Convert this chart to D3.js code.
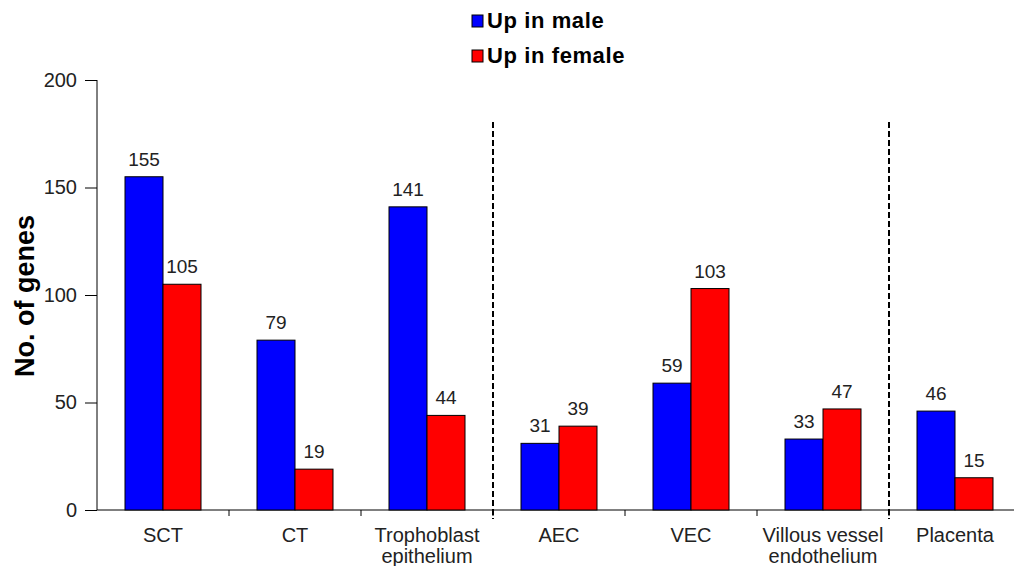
<!DOCTYPE html>
<html><head><meta charset="utf-8">
<script src="https://cdn.jsdelivr.net/npm/d3@7"></script>
<style>body{margin:0;background:#fff}svg{display:block}text{font-family:"Liberation Sans",Arial,sans-serif}</style>
</head><body><svg id="c" width="1014" height="566"></svg>
<script>
const categories = [["SCT"],["CT"],["Trophoblast","epithelium"],["AEC"],["VEC"],["Villous vessel","endothelium"],["Placenta"]];
const series = ["Up in male","Up in female"];
const colors = ["#0000ff","#ff0000"];
const male = [155,79,141,31,59,33,46];
const female = [105,19,44,39,103,47,15];
const yTicks = [0,50,100,150,200];
const dividers = [3,6]; // dashed lines before these category indices

const svg = d3.select("#c");
const x0 = d3.scaleBand().domain(d3.range(categories.length)).range([97, 97+132*7]).padding(0);
const x1 = d3.scaleBand().domain([0,1]).range([28, 104]).padding(0);
const y = d3.scaleLinear().domain([0,200]).range([510,80]);

// y axis
const ya = svg.append("g").attr("transform","translate(97,0)")
  .call(d3.axisLeft(y).tickValues(yTicks).tickSize(12).tickPadding(8));
ya.select(".domain").attr("stroke","#000").attr("d","M0,80V510");
ya.selectAll("line").attr("stroke","#000");
ya.selectAll("text").attr("font-size","20px").attr("fill","#222");

// x axis
const xa = svg.append("g").attr("transform","translate(0,510)");
xa.append("line").attr("x1",97).attr("x2",1014).attr("stroke","#000");
xa.selectAll("line.t").data(d3.range(1,categories.length)).join("line")
  .attr("x1",d=>x0(d)).attr("x2",d=>x0(d)).attr("y1",0).attr("y2",6).attr("stroke","#000");
const xl = xa.selectAll("text.c").data(categories).join("text")
  .attr("text-anchor","middle").attr("font-size","20px").attr("fill","#222")
  .attr("transform",(d,i)=>`translate(${x0(i)+x0.bandwidth()/2},0)`);
xl.selectAll("tspan").data(d=>d).join("tspan").attr("x",0).attr("y",(d,i)=>32+i*21).text(d=>d);

// bars
const data = categories.map((c,i)=>[male[i],female[i]]);
const g = svg.selectAll("g.grp").data(data).join("g").attr("transform",(d,i)=>`translate(${x0(i)},0)`);
g.selectAll("rect").data(d=>d).join("rect")
  .attr("x",(d,j)=>x1(j)).attr("width",x1.bandwidth())
  .attr("y",d=>y(d)).attr("height",d=>y(0)-y(d))
  .attr("fill",(d,j)=>colors[j]).attr("stroke","#000").attr("stroke-width",1);
g.selectAll("text").data(d=>d).join("text")
  .attr("x",(d,j)=>x1(j)+x1.bandwidth()/2).attr("y",d=>y(d)-11)
  .attr("text-anchor","middle").attr("font-size","19px").attr("fill","#222").text(d=>d);

// dashed dividers
svg.selectAll("line.div").data(dividers).join("line")
  .attr("x1",d=>x0(d)).attr("x2",d=>x0(d)).attr("y1",122).attr("y2",519)
  .attr("stroke","#000").attr("stroke-width",2).attr("stroke-dasharray","6,3");

// y label
svg.append("text").attr("transform","translate(34,296) rotate(-90)")
  .attr("text-anchor","middle").attr("font-size","27px").attr("font-weight","bold").text("No. of genes");

// legend
const lg = svg.selectAll("g.lg").data(series).join("g").attr("transform",(d,i)=>`translate(472,${15+i*35})`);
lg.append("rect").attr("width",11).attr("height",12).attr("fill",(d,i)=>colors[i]).attr("stroke","#000");
lg.append("text").attr("x",15).attr("y",13).attr("font-size","22px").attr("letter-spacing","0.6px").attr("font-weight","bold").text(d=>d);
</script></body></html>
